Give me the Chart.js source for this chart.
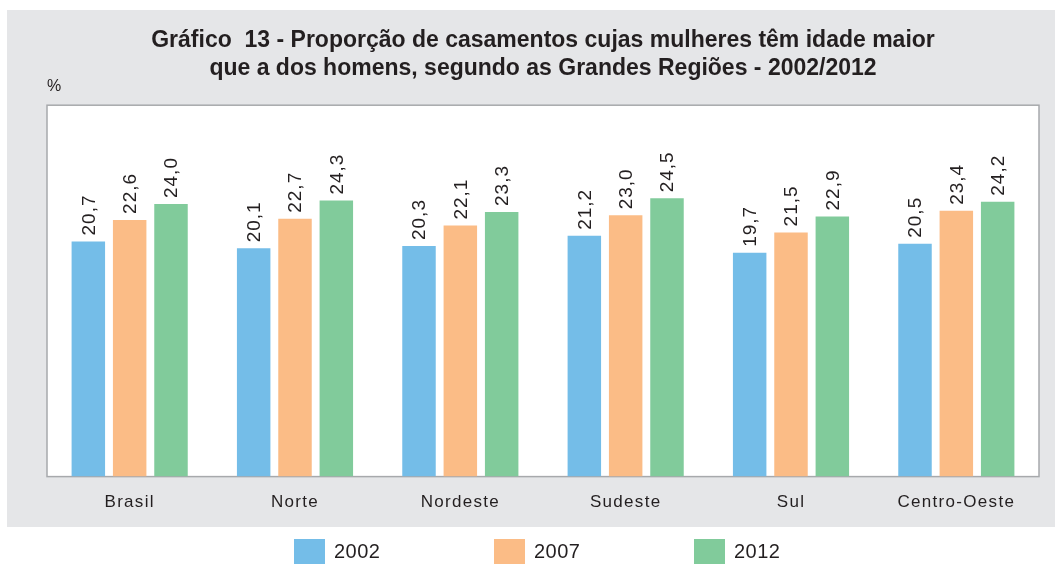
<!DOCTYPE html>
<html>
<head>
<meta charset="utf-8">
<script src="https://cdn.jsdelivr.net/npm/chart.js@4/dist/chart.umd.min.js"></script>
<style>
  html, body { margin: 0; padding: 0; background: #fff; }
  #wrap { width: 1055px; height: 564px; }
</style>
</head>
<body>
<div id="wrap"><canvas id="barChart"></canvas></div>
<script>
var regioes = ['Brasil', 'Norte', 'Nordeste', 'Sudeste', 'Sul', 'Centro-Oeste'];
var anos = ['2002', '2007', '2012'];
var v2002 = [20.7, 20.1, 20.3, 21.2, 19.7, 20.5];
var v2007 = [22.6, 22.7, 22.1, 23.0, 21.5, 23.4];
var v2012 = [24.0, 24.3, 23.3, 24.5, 22.9, 24.2];
var cores = ['#74bde8', '#fbbc86', '#81cb9b'];

var txt = '#231f20';

// category scale with letter-spaced labels
class SpacedCategory extends Chart.CategoryScale {
    drawLabels(area) {
        this.ctx.save();
        this.ctx.letterSpacing = '1.3px';
        super.drawLabels(area);
        this.ctx.restore();
    }
}
SpacedCategory.id = 'spacedCategory';
SpacedCategory.defaults = Chart.CategoryScale.defaults;
Chart.register(SpacedCategory);

function virgula(v) {
    return v.toFixed(1).replace('.', ',');
}

var fundo = {
    id: 'fundo',
    beforeDraw: function (chart) {
        var c = chart.ctx, a = chart.chartArea;
        c.save();
        c.fillStyle = '#ffffff';
        c.fillRect(0, 0, chart.width, chart.height);
        c.fillStyle = '#e5e6e8';
        c.fillRect(7, 10, chart.width - 7, 517);
        c.fillStyle = '#ffffff';
        c.fillRect(a.left, a.top, a.right - a.left, a.bottom - a.top);
        c.strokeStyle = '#a7a9ac';
        c.lineWidth = 1.5;
        c.strokeRect(a.left, a.top, a.right - a.left, a.bottom - a.top);
        c.fillStyle = txt;
        c.font = '16px "Liberation Sans"';
        c.textBaseline = 'middle';
        c.fillText('%', a.left, 87);
        c.restore();
    },
    afterDatasetsDraw: function (chart) {
        var c = chart.ctx;
        c.save();
        c.fillStyle = txt;
        c.font = '19px "Liberation Sans"';
        c.letterSpacing = '1px';
        c.textAlign = 'left';
        c.textBaseline = 'middle';
        chart.data.datasets.forEach(function (ds, i) {
            chart.getDatasetMeta(i).data.forEach(function (bar, j) {
                c.save();
                c.translate(bar.x + 1, bar.y - 6);
                c.rotate(-Math.PI / 2);
                c.fillText(virgula(ds.data[j]), 0, 0);
                c.restore();
            });
        });
        // legend
        c.font = '20px "Liberation Sans"';
        c.letterSpacing = '0.5px';
        chart.data.datasets.forEach(function (ds, i) {
            var x = 294 + i * 200;
            c.fillStyle = ds.backgroundColor;
            c.fillRect(x, 539, 31, 25);
            c.fillStyle = txt;
            c.fillText(ds.label, x + 40, 552);
        });
        c.restore();
    }
};

var ctx = document.getElementById('barChart').getContext('2d');
var myChart = new Chart(ctx, {
    type: 'bar',
    data: {
        labels: regioes,
        datasets: [
            { label: anos[0], data: v2002, backgroundColor: cores[0] },
            { label: anos[1], data: v2007, backgroundColor: cores[1] },
            { label: anos[2], data: v2012, backgroundColor: cores[2] }
        ]
    },
    options: {
        responsive: true,
        maintainAspectRatio: false,
        animation: false,
        layout: { padding: { left: 47, right: 16, top: 0, bottom: 35 } },
        datasets: {
            bar: { categoryPercentage: 0.75, barPercentage: 0.81 }
        },
        scales: {
            x: {
                type: 'spacedCategory',
                grid: { display: false, drawTicks: false },
                border: { display: false },
                ticks: {
                    color: txt,
                    padding: 16,
                    font: { family: 'Liberation Sans', size: 17 }
                }
            },
            y: {
                display: false,
                min: 0,
                max: 32.7
            }
        },
        plugins: {
            legend: { display: false },
            tooltip: { enabled: false },
            title: {
                display: true,
                text: ['Gráfico  13 - Proporção de casamentos cujas mulheres têm idade maior',
                       'que a dos homens, segundo as Grandes Regiões - 2002/2012'],
                color: txt,
                font: { family: 'Liberation Sans', size: 23, weight: 'bold', lineHeight: 1.2 },
                padding: { top: 27, bottom: 23 }
            }
        }
    },
    plugins: [fundo]
});
</script>
</body>
</html>
